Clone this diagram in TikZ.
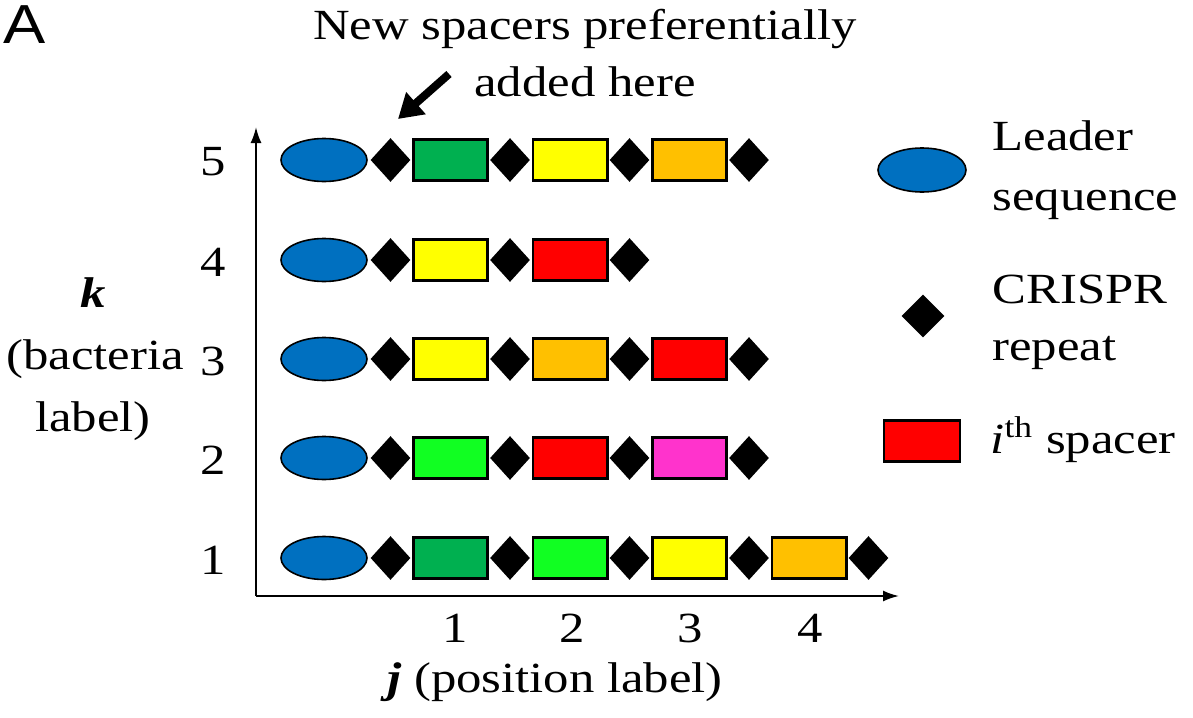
\documentclass[tikz,border=0pt]{standalone}
\usepackage{fontspec}
\setmainfont{Liberation Serif}
\newfontfamily\panelfont{Liberation Sans}
\usepackage{xcolor}
\definecolor{leaderblue}{HTML}{0070C0}
\definecolor{sgreen}{HTML}{00B050}
\definecolor{slime}{HTML}{11FF22}
\definecolor{syellow}{HTML}{FFFF00}
\definecolor{sorange}{HTML}{FFC000}
\definecolor{sred}{HTML}{FF0000}
\definecolor{spink}{HTML}{FF33CC}
\usetikzlibrary{arrows.meta,shapes.geometric}
\tikzset{
  >={Latex[length=8pt,width=5.5pt]},
  leaderseq/.style={ellipse,draw=black,fill=leaderblue,line width=0.8pt,
                    minimum width=43pt,minimum height=21.5pt,inner sep=0pt},
  crrepeat/.style ={diamond,fill=black,minimum width=20pt,minimum height=22pt,
                    inner sep=0pt},
  spacer/.style   ={rectangle,draw=black,line width=1.3pt,minimum width=37.2pt,
                    minimum height=20.7pt,inner sep=0pt},
  lbl/.style      ={font=\fontsize{21.5}{25}\selectfont,inner sep=0pt,
                    anchor=base,xscale=1.18},
  axis/.style     ={->,line width=1pt},
}

\begin{document}
\begin{tikzpicture}[x=0.5pt,y=-0.5pt]
\useasboundingbox (0,0) rectangle (1193,717);
% panel letter and heading
\node[font=\panelfont\fontsize{27.5}{30}\selectfont,inner sep=0pt,anchor=base west,
      xscale=1.15] (panel) at (3,44) {A};
\node[lbl] (head1) at (585,40) {New spacers preferentially};
\node[lbl] (head2) at (585,97) {added here};
\coordinate (arrtail) at (449,74);
\coordinate (arrtip) at (398,119);
\draw[line width=4pt,-{Triangle[length=12pt,width=14pt]}] (arrtail) -- (arrtip);
% axes
\coordinate (origin) at (256,596);
\coordinate (ytip) at (256,127);
\coordinate (xtip) at (899,596);
\draw[axis] (origin) -- (ytip);
\draw[axis] (origin) -- (xtip);
% arrays, one row per bacterium
\foreach \k/\y/\cols in {5/160/{sgreen,syellow,sorange},
                         4/260/{syellow,sred},
                         3/359/{syellow,sorange,sred},
                         2/458/{slime,sred,spink},
                         1/558/{sgreen,slime,syellow,sorange}}
  {\node[leaderseq] (lead\k) at (324,\y) {};
   \node[crrepeat] (rep\k-0) at (390.5,\y) {};
   \foreach \c [count=\j] in \cols
     {\node[spacer,fill=\c] (sp\k-\j) at ({331+119.5*\j},\y) {};
      \node[crrepeat] (rep\k-\j) at ({390.5+119.5*\j},\y) {};}
   \node[lbl] (knum\k) at (213,\y+16) {\k};}
% position labels
\foreach \j/\x in {1/455,2/572,3/690,4/810}
  \node[lbl] (jnum\j) at (\x,642) {\j};
\node[lbl] (jlab) at (555,692) {\textbf{\textit{j}} (position label)};
\node[lbl] (klab1) at (93,307) {\textbf{\textit{k}}};
\node[lbl] (klab2) at (95,369) {(bacteria};
\node[lbl] (klab3) at (93,431) {label)};
% legend
\node[leaderseq,minimum width=44pt,minimum height=22pt] (legL) at (922,170) {};
\node[crrepeat,minimum width=21.5pt,minimum height=21.5pt] (legR) at (923,316) {};
\node[spacer,fill=sred,minimum width=38pt] (legS) at (922,441) {};
\node[lbl,anchor=base west] (legL1) at (992,150) {Leader};
\node[lbl,anchor=base west] (legL2) at (992,210) {sequence};
\node[lbl,anchor=base west] (legR1) at (992,303) {CRISPR};
\node[lbl,anchor=base west] (legR2) at (992,360) {repeat};
\node[lbl,anchor=base west] (legS1) at (990,453) {\textit{i}\textsuperscript{th} spacer};
\end{tikzpicture}
\end{document}
